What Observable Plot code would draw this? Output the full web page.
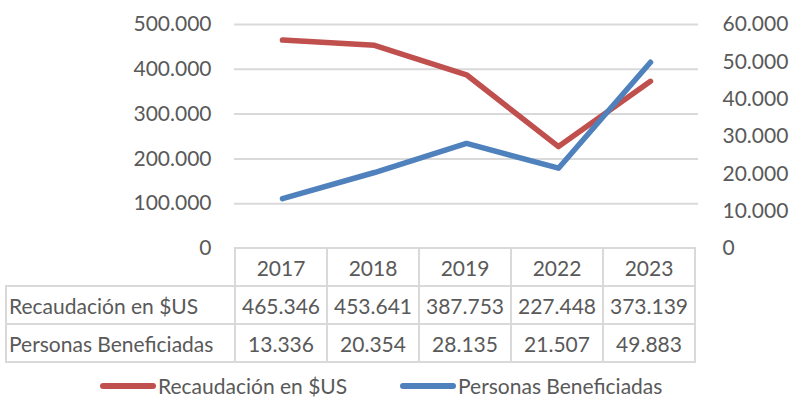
<!DOCTYPE html>
<html>
<head>
<meta charset="utf-8">
<script src="https://cdn.jsdelivr.net/npm/d3@7"></script>
<script src="https://cdn.jsdelivr.net/npm/@observablehq/plot@0.6"></script>
<style>
  html, body { margin: 0; padding: 0; background: #fff; }
  #wrap { position: relative; width: 793px; height: 406px; overflow: hidden; font-family: Lato, "Open Sans", sans-serif; color: #595959; }
  #chart { position: absolute; left: 0; top: 0; }
  table.dt { position: absolute; left: 5px; top: 247px; border-collapse: collapse; table-layout: fixed; font-size: 21px; color: #595959; }
  table.dt td { border: 2px solid #d9d9d9; height: 36px; padding: 0; text-align: center; white-space: nowrap; overflow: hidden; }
  table.dt td.lab { text-align: left; padding-left: 2px; }
  table.dt td.blank { border-top: none; border-left: none; }
  #legend { position: absolute; top: 373px; left: 0; width: 793px; font-size: 21px; color: #595959; }
  .li { position: absolute; display: flex; align-items: center; white-space: nowrap; }
  .sw { display: inline-block; width: 56px; height: 6px; border-radius: 3px; margin-right: 2px; }
</style>
</head>
<body>
<div id="wrap">
  <div id="chart"></div>
  <table class="dt" id="tbl"></table>
  <div id="legend"></div>
</div>
<script>
const years = ["2017", "2018", "2019", "2022", "2023"];
const recaudacion = [465346, 453641, 387753, 227448, 373139];
const beneficiadas = [13336, 20354, 28135, 21507, 49883];
const seriesNames = ["Recaudación en $US", "Personas Beneficiadas"];
const leftTicks = [0, 100000, 200000, 300000, 400000, 500000];
const rightTicks = [0, 10000, 20000, 30000, 40000, 50000, 60000];
const colors = ["#C0504D", "#4F81BD"];

const loc = d3.formatLocale({decimal: ",", thousands: ".", grouping: [3], currency: ["$", ""]});
const fmt = loc.format(",");
const k = 500000 / 60000;

const recData = years.map((y, i) => ({year: y, value: recaudacion[i]}));
const benData = years.map((y, i) => ({year: y, value: beneficiadas[i] * k}));

const plot = Plot.plot({
  width: 793,
  height: 260,
  marginTop: 24,
  marginBottom: 12,
  marginLeft: 234,
  marginRight: 95,
  style: {fontFamily: "Lato, 'Open Sans', sans-serif", fontSize: "21px", color: "#595959", background: "transparent"},
  x: {type: "point", domain: years, padding: 0.5, axis: null},
  y: {domain: [0, 500000], axis: null},
  marks: [
    Plot.gridY(leftTicks.slice(1), {stroke: "#d9d9d9", strokeOpacity: 1, strokeWidth: 2}),
    Plot.axisY(leftTicks, {anchor: "left", label: null, tickSize: 0, tickPadding: 23, tickFormat: fmt, fill: "#595959", fontSize: 21}),
    Plot.axisY(rightTicks.map(v => v * k), {anchor: "right", label: null, tickSize: 0, tickPadding: 24, tickFormat: d => fmt(Math.round(d / k)), fill: "#595959", fontSize: 21}),
    Plot.line(recData, {x: "year", y: "value", stroke: colors[0], strokeWidth: 5.5, strokeLinecap: "round", strokeLinejoin: "round", style: "filter: drop-shadow(2px 2px 1.5px rgba(0,0,0,0.35))"}),
    Plot.line(benData, {x: "year", y: "value", stroke: colors[1], strokeWidth: 5.5, strokeLinecap: "round", strokeLinejoin: "round", style: "filter: drop-shadow(2px 2px 1.5px rgba(0,0,0,0.35))"})
  ]
});
document.getElementById("chart").appendChild(plot);

// Data table aligned with the x scale
const xs = plot.scale("x");
const step = xs.step;
const x0 = xs.range[0];
const tbl = document.getElementById("tbl");
let html = `<colgroup><col style="width:${x0 - 5}px">` + years.map(() => `<col style="width:${step}px">`).join("") + `</colgroup>`;
html += `<tr><td class="blank"></td>` + years.map(y => `<td>${y}</td>`).join("") + `</tr>`;
html += `<tr><td class="lab">${seriesNames[0]}</td>` + recaudacion.map(v => `<td>${fmt(v)}</td>`).join("") + `</tr>`;
html += `<tr><td class="lab">${seriesNames[1]}</td>` + beneficiadas.map(v => `<td>${fmt(v)}</td>`).join("") + `</tr>`;
tbl.innerHTML = html;

// Legend
const legend = document.getElementById("legend");
const legendLeft = [100, 400];
seriesNames.forEach((n, i) => {
  const d = document.createElement("div");
  d.className = "li";
  d.style.left = legendLeft[i] + "px";
  d.innerHTML = `<span class="sw" style="background:${colors[i]}"></span><span>${n}</span>`;
  legend.appendChild(d);
});
</script>
</body>
</html>
